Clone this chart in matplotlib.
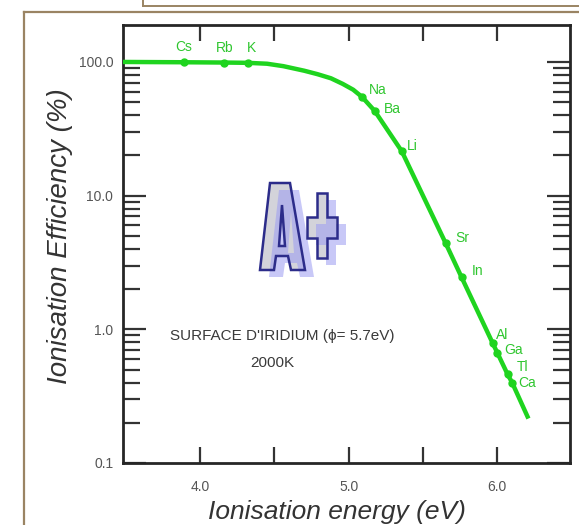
import numpy as np
import matplotlib
matplotlib.use("Agg")
import matplotlib.pyplot as plt
from matplotlib.lines import Line2D
from matplotlib.patches import PathPatch
from matplotlib.path import Path

plt.rcParams['font.family'] = ['Liberation Sans', 'DejaVu Sans']

# curve (ionisation energy eV, efficiency %)
curve_x = [3.48, 3.89, 4.16, 4.32, 4.45, 4.56, 4.70, 4.79, 4.88, 4.96, 5.03, 5.09,
           5.175, 5.357, 5.653, 5.76, 5.97, 6.00, 6.07, 6.10, 6.21]
curve_y = [100, 99.5, 99, 98.5, 97, 93, 86, 81, 75.5, 68.5, 62, 54.7,
           43, 21.5, 4.4, 2.45, 0.785, 0.67, 0.46, 0.40, 0.215]

# elements marked on the curve
elements = ['Cs', 'Rb', 'K', 'Na', 'Ba', 'Li', 'Sr', 'In', 'Al', 'Ga', 'Tl', 'Ca']
elem_x = [3.89, 4.16, 4.32, 5.09, 5.175, 5.357, 5.653, 5.76, 5.97, 6.00, 6.07, 6.10]
elem_y = [99.5, 99, 98.5, 54.7, 43, 21.5, 4.4, 2.45, 0.785, 0.67, 0.46, 0.40]

# label offsets in pixels (dx, dy)
label_off = [(0, 15), (1, 15), (4, 15), (16, 7), (18, 2), (11, 5),
             (17, 5), (16, 6), (9, 8), (16, 3), (15, 7), (15, 0)]

y_ticks = [0.1, 1, 10, 100]
y_ticklabels = ['0.1', '1.0', '10.0', '100.0']
x_ticks = [4, 5, 6]
x_ticklabels = ['4.0', '5.0', '6.0']
x_minor = [4.5, 5.5]

green = '#1fd41f'
label_green = '#2fc62f'
W, H = 579, 525

fig = plt.figure(figsize=(W / 100, H / 100), dpi=100)
fig.patch.set_facecolor('white')

# frame lines of the page around the chart
frame = '#9a8463'
fig.add_artist(Line2D([24 / W, 24 / W], [0, 1 - 12 / H], color=frame, lw=1.6))
fig.add_artist(Line2D([24 / W, 1], [1 - 12 / H, 1 - 12 / H], color=frame, lw=1.6))
fig.add_artist(Line2D([143 / W, 143 / W], [1, 1 - 6 / H], color=frame, lw=1.4))
fig.add_artist(Line2D([143 / W, 1], [1 - 6 / H, 1 - 6 / H], color=frame, lw=1.4))

ax = fig.add_axes([123 / W, 62 / H, 447 / W, 438 / H])
ax.set_yscale('log')
ax.set_xlim(3.48, 6.49)
ax.set_ylim(0.1, 189)

ax.plot(curve_x, curve_y, color=green, lw=3.2, solid_capstyle='butt', zorder=3)
ax.plot(elem_x, elem_y, 'o', ms=5, color=green, zorder=4)
for name, x, y, (dx, dy) in zip(elements, elem_x, elem_y, label_off):
    ax.annotate(name, (x, y), xytext=(dx, dy), textcoords='offset pixels',
                ha='center', va='center', fontsize=10, color=label_green)

ax.set_yticks(y_ticks)
ax.set_yticklabels(y_ticklabels)
ax.yaxis.set_minor_locator(matplotlib.ticker.LogLocator(base=10, subs=np.arange(2, 10)))
ax.yaxis.set_minor_formatter(matplotlib.ticker.NullFormatter())
ax.set_xticks(x_ticks)
ax.set_xticklabels(x_ticklabels)
ax.set_xticks(x_minor, minor=True)

ax.tick_params(which='both', direction='in', left=True, right=True, top=True, bottom=True,
               color='#333333', width=1.6, labelsize=10, labelcolor='#555555')
ax.tick_params(axis='y', which='major', length=16.5, pad=7)
ax.tick_params(axis='y', which='minor', length=12)
ax.tick_params(axis='x', which='both', length=11.5, pad=12)

for sp in ax.spines.values():
    sp.set_linewidth(2.0)
    sp.set_color('#262626')

ax.text(0.357, 0.29, "SURFACE D'IRIDIUM (\u03d5= 5.7eV)", transform=ax.transAxes,
        ha='center', va='center', fontsize=11, color='#3a3a3a')
ax.text(0.333, 0.228, '2000K', transform=ax.transAxes,
        ha='center', va='center', fontsize=11, color='#3a3a3a')

fig.text(60 / W, 1 - 236 / H, 'Ionisation Efficiency (%)', rotation=90, style='italic',
         ha='center', va='center', fontsize=20, color='#333333')
fig.text(337 / W, 1 - 512 / H, 'Ionisation energy (eV)', style='italic',
         ha='center', va='center', fontsize=19, color='#333333')


# the "A+" logo drawn as outlined shapes (image pixel coords, y down)
def to_fig(pts, dx=0, dy=0):
    return [((x + dx) / W, 1 - (y + dy) / H) for x, y in pts]


def shape(rings, dx=0, dy=0):
    verts, codes = [], []
    for ring in rings:
        r = to_fig(ring, dx, dy)
        verts += r + [r[0]]
        codes += [Path.MOVETO] + [Path.LINETO] * (len(r) - 1) + [Path.CLOSEPOLY]
    return Path(verts, codes)


letter_a = [[(260, 270), (270, 183), (290, 183), (305, 270), (291, 270), (288, 256),
             (276, 256), (274, 270)],
            [(279, 246), (285, 246), (282, 205)]]
plus = [[(317, 193), (327, 193), (327, 217), (337, 217), (337, 238), (327, 238),
         (327, 258), (317, 258), (317, 238), (307, 238), (307, 217), (317, 217)]]

for rings in (letter_a, plus):
    fig.add_artist(PathPatch(shape(rings), facecolor='#d3d3da', edgecolor='none',
                             transform=fig.transFigure))
for rings in (letter_a, plus):
    fig.add_artist(PathPatch(shape(rings, 9, 7), facecolor='#9c9cf2', edgecolor='none',
                             alpha=0.55, transform=fig.transFigure))
for rings in (letter_a, plus):
    fig.add_artist(PathPatch(shape(rings), facecolor='none', edgecolor='#2c2c8a', lw=1.8,
                             joinstyle='miter', transform=fig.transFigure))

fig.savefig('out.png', dpi=100)
